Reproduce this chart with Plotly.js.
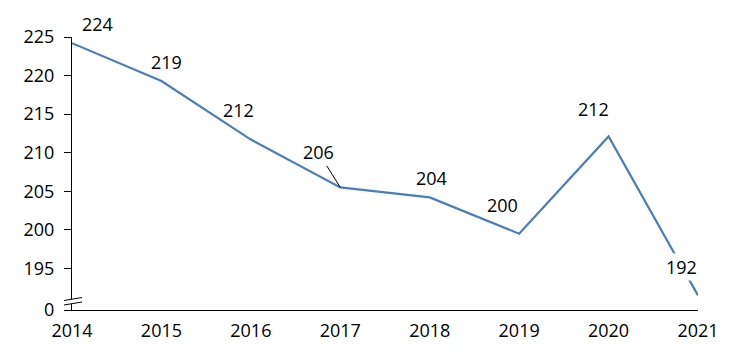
<!DOCTYPE html>
<html>
<head>
<meta charset="utf-8">
<script src="https://cdn.plot.ly/plotly-3.0.1.min.js"></script>
<style>html,body{margin:0;padding:0;background:#fff;}#chart{width:731px;height:359px;}</style>
</head>
<body>
<div id="chart"></div>
<script>
// Data
const years = [2014, 2015, 2016, 2017, 2018, 2019, 2020, 2021];
const values = [224.2, 219.3, 211.7, 205.5, 204.2, 199.5, 212.1, 191.5];
const labels = ["224", "219", "212", "206", "204", "200", "212", "192"];
const yTickVals = [189.6, 195, 200, 205, 210, 215, 220, 225];
const yTickText = ["0", "195", "200", "205", "210", "215", "220", "225"];
const xTickText = ["2014", "2015", "2016", "2017", "2018", "2019", "2020", "2021"];

// label offsets in pixels (label centre relative to point)
const labelDX = [25, 5, -12, -22, 2, -17, -15, -17];
const labelDY = [-19, -19, -30, -35, -19, -29, -27, -28];

const font = {family: "Open Sans, Noto Sans, sans-serif", size: 18, color: "#000"};

const annotations = years.map((yr, i) => {
  const a = {
    x: yr, y: values[i], xref: "x", yref: "y", text: labels[i],
    font: font, xanchor: "center", yanchor: "middle"
  };
  if (i === 3) {
    Object.assign(a, {showarrow: true, ax: labelDX[i], ay: labelDY[i], arrowhead: 0,
      arrowwidth: 1, arrowcolor: "#000", standoff: 0, startstandoff: 0});
  } else {
    Object.assign(a, {showarrow: false, xshift: labelDX[i], yshift: -labelDY[i]});
  }
  if (i === 7) { a.bgcolor = "#fff"; a.borderpad = 1; }
  return a;
});

const trace = {
  x: years, y: values, type: "scatter", mode: "lines",
  line: {color: "#4A7EBB", width: 2.2}, hoverinfo: "none"
};

const layout = {
  width: 731, height: 359,
  margin: {l: 72, r: 33, t: 37, b: 49},
  paper_bgcolor: "#fff", plot_bgcolor: "#fff",
  showlegend: false,
  font: font,
  xaxis: {
    range: [2014, 2021], tickvals: years, ticktext: xTickText,
    showgrid: false, zeroline: false, showline: true, linecolor: "#000", linewidth: 1,
    ticks: "", tickfont: font, ticklabelstandoff: 4, fixedrange: true
  },
  yaxis: {
    range: [189.6, 225], tickvals: yTickVals, ticktext: yTickText,
    showgrid: false, zeroline: false, showline: true, linecolor: "#000", linewidth: 1,
    ticks: "outside", ticklen: 7, tickcolor: "#000", tickwidth: 1,
    ticklabelstandoff: 6, tickfont: font, fixedrange: true
  },
  annotations: annotations,
  shapes: [
    {type: "path", xref: "paper", yref: "paper", xsizemode: "pixel", ysizemode: "pixel",
     xanchor: 0, yanchor: 0, path: "M -8,5 L 10,8 L 10,12.5 L -8,9.5 Z",
     fillcolor: "#fff", line: {width: 0}},
    {type: "line", xref: "paper", yref: "paper", xsizemode: "pixel", ysizemode: "pixel",
     xanchor: 0, yanchor: 0, x0: -8, y0: 5, x1: 10, y1: 8, line: {color: "#000", width: 1}},
    {type: "line", xref: "paper", yref: "paper", xsizemode: "pixel", ysizemode: "pixel",
     xanchor: 0, yanchor: 0, x0: -8, y0: 9.5, x1: 10, y1: 12.5, line: {color: "#000", width: 1}}
  ]
};

Plotly.newPlot("chart", [trace], layout, {displayModeBar: false, staticPlot: true});
</script>
</body>
</html>
